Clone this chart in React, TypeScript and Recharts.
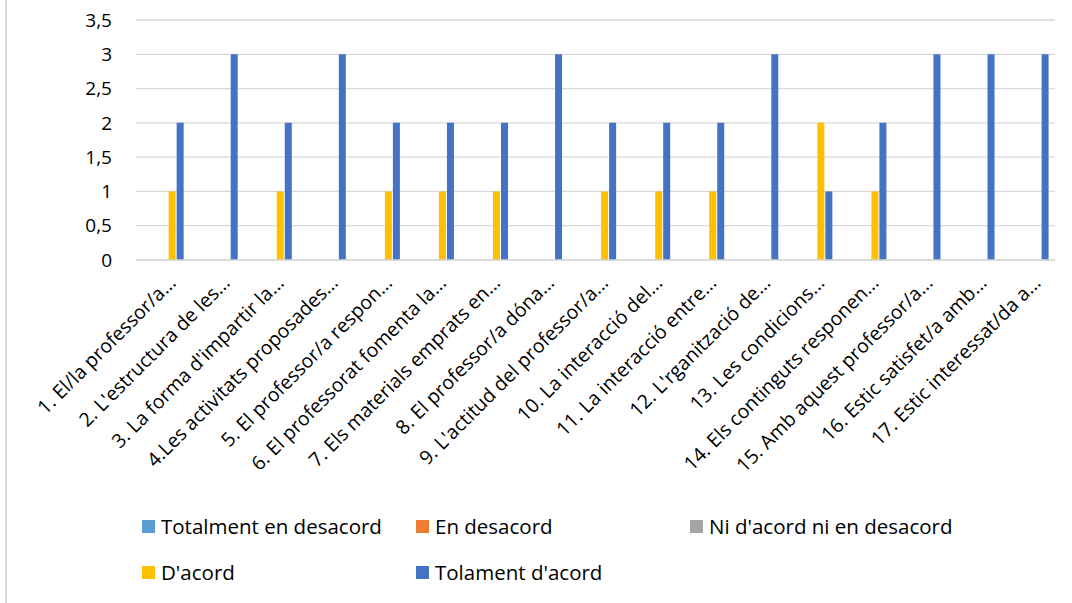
import { Bar, BarChart, CartesianGrid, Legend, XAxis, YAxis } from 'recharts';

const FONT = '"Open Sans", Lato, sans-serif';

const questions = [
  '1. El/la professor/a...',
  "2. L'estructura de les...",
  "3. La forma d'impartir la...",
  '4.Les activitats proposades...',
  '5. El professor/a respon...',
  '6. El professorat fomenta la...',
  '7. Els materials emprats en...',
  '8. El professor/a dóna...',
  "9. L'actitud del professor/a...",
  '10. La interacció del...',
  '11. La interacció entre...',
  "12. L'rganització de...",
  '13. Les condicions...',
  '14. Els continguts responen...',
  '15. Amb aquest professor/a...',
  '16. Estic satisfet/a amb...',
  '17. Estic interessat/da a...',
];

const totalmentDesacord = [0, 0, 0, 0, 0, 0, 0, 0, 0, 0, 0, 0, 0, 0, 0, 0, 0];
const enDesacord = [0, 0, 0, 0, 0, 0, 0, 0, 0, 0, 0, 0, 0, 0, 0, 0, 0];
const niAcord = [0, 0, 0, 0, 0, 0, 0, 0, 0, 0, 0, 0, 0, 0, 0, 0, 0];
const dAcord = [1, 0, 1, 0, 1, 1, 1, 0, 1, 1, 1, 0, 2, 1, 0, 0, 0];
const tolamentAcord = [2, 3, 2, 3, 2, 2, 2, 3, 2, 2, 2, 3, 1, 2, 3, 3, 3];

const yTicks = [0, 0.5, 1, 1.5, 2, 2.5, 3, 3.5];

const series = [
  { key: 'tda', name: 'Totalment en desacord', color: '#5B9BD5' },
  { key: 'ed', name: 'En desacord', color: '#ED7D31' },
  { key: 'ni', name: "Ni d'acord ni en desacord", color: '#A5A5A5' },
  { key: 'da', name: "D'acord", color: '#FFC000' },
  { key: 'ta', name: "Tolament d'acord", color: '#4472C4' },
];

const data = questions.map((q, i) => ({
  q,
  tda: totalmentDesacord[i],
  ed: enDesacord[i],
  ni: niAcord[i],
  da: dAcord[i],
  ta: tolamentAcord[i],
}));

function QuestionTick({ x, y, payload }: any) {
  const tx = x + 14;
  const ty = y + 24;
  return (
    <text
      x={tx}
      y={ty}
      transform={`rotate(-45 ${tx} ${ty})`}
      textAnchor="end"
      fontSize={19.5}
      fontFamily={FONT}
      fill="#000"
    >
      {payload.value}
    </text>
  );
}

// legend in Excel's grid: three columns, two rows
function GridLegend() {
  return (
    <div style={{ position: 'relative', width: 1072, height: 90 }}>
      {series.map((s, i) => (
        <div
          key={s.key}
          style={{
            position: 'absolute',
            left: 142 + (i % 3) * 274,
            top: Math.floor(i / 3) * 46,
            display: 'flex',
            alignItems: 'center',
            fontFamily: FONT,
            fontSize: 20.5,
            color: '#000',
            whiteSpace: 'nowrap',
          }}
        >
          <span style={{ width: 13, height: 13, background: s.color, marginRight: 6, display: 'inline-block' }} />
          {s.name}
        </div>
      ))}
    </div>
  );
}

export default function App() {
  return (
    <div style={{ position: 'absolute', left: 0, top: 0, width: 1072, height: 603, background: '#fff' }}>
      <div style={{ position: 'absolute', left: 5, top: 0, width: 2, height: 603, background: '#d9d9d9' }} />
      <BarChart
        width={1072}
        height={603}
        data={data}
        margin={{ top: 20, right: 17, left: 0, bottom: 0 }}
        barCategoryGap="16%"
        barGap={1}
      >
        <CartesianGrid vertical={false} stroke="#d9d9d9" strokeWidth={1.3} />
        <XAxis
          dataKey="q"
          interval={0}
          height={343}
          tickLine={false}
          tickSize={0}
          tickMargin={0}
          axisLine={{ stroke: '#d9d9d9', strokeWidth: 1.5 }}
          tick={<QuestionTick />}
        />
        <YAxis
          width={136}
          domain={[0, 3.5]}
          ticks={yTicks}
          axisLine={false}
          tickLine={false}
          tickSize={0}
          tickMargin={24}
          tickFormatter={(v: number) => String(v).replace('.', ',')}
          tick={{ fill: '#000', fontSize: 19, fontFamily: FONT }}
        />
        <Legend
          layout="horizontal"
          verticalAlign="middle"
          align="center"
          wrapperStyle={{ top: 512, left: 0, width: 1072 }}
          content={<GridLegend />}
        />
        {series.map((s) => (
          <Bar key={s.key} dataKey={s.key} name={s.name} fill={s.color} isAnimationActive={false} />
        ))}
      </BarChart>
    </div>
  );
}
